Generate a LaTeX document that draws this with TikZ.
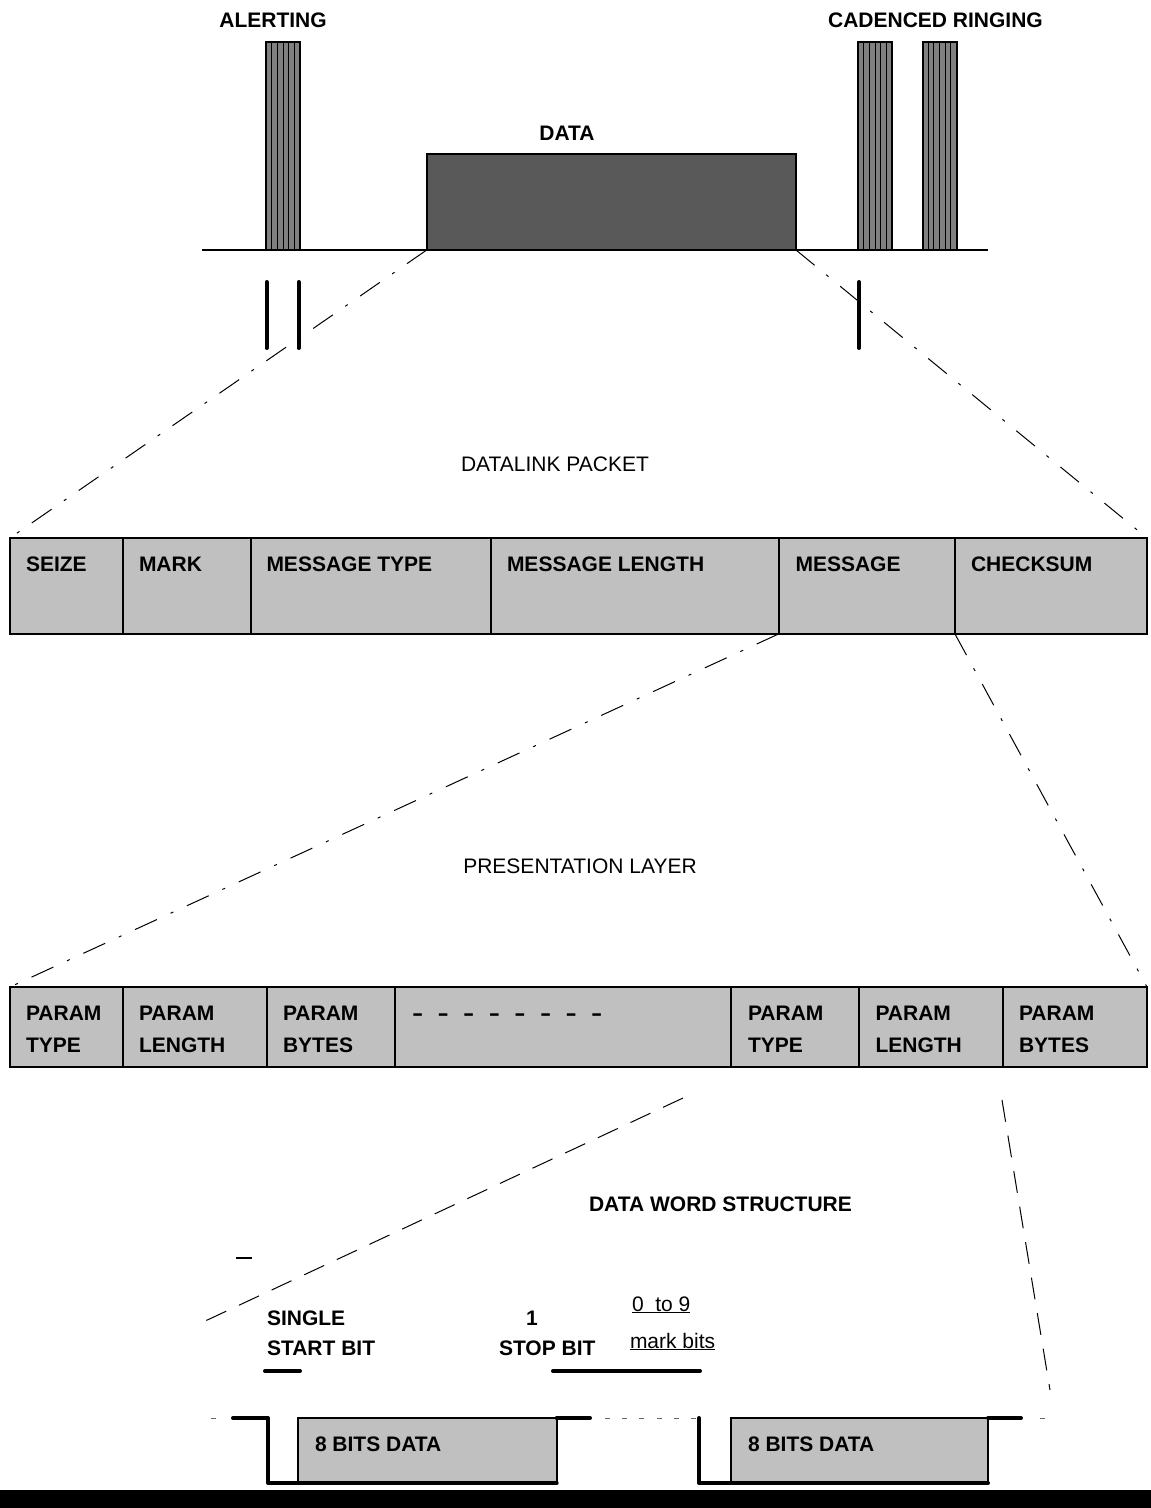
\documentclass[tikz,border=0pt]{standalone}
\usepackage{fontspec}
\setmainfont{Liberation Sans}
\definecolor{cellgray}{RGB}{192,192,192}
\definecolor{bargray}{RGB}{128,128,128}
\definecolor{datagray}{RGB}{89,89,89}
\newcommand\onedash{\scalebox{1.6}[1]{-}}
\newcommand\dsh{\makebox[25.6pt][l]{\onedash}}
\begin{document}
\begin{tikzpicture}[x=1pt,y=-1pt,
  every node/.style={inner sep=0pt,outer sep=0pt},
  bold/.style={font=\fontsize{21}{25}\selectfont\bfseries},
  reg/.style={font=\fontsize{21}{25}\selectfont},
  cellbox/.style={draw,line width=2pt,fill=cellgray,anchor=north west},
  barbox/.style={draw,line width=2pt,fill=bargray,anchor=south west,minimum width=34pt,minimum height=208pt},
  stripe/.style={line width=1pt},
  tick/.style={line width=4pt,line cap=round},
  wave/.style={line width=4pt,line cap=round,line join=round},
  dashdot/.style={line width=1pt,dash pattern=on 24pt off 15pt on 3pt off 15pt},
  longdash/.style={line width=1pt,dash pattern=on 22pt off 14pt},
  fine/.style={line width=1pt,dash pattern=on 5pt off 12.2pt,black!60},
]
\useasboundingbox (0,0) rectangle (1151,1508);

% ---------- top: line signal ----------
\coordinate (bl) at (202,250);
\coordinate (br) at (988,250);
\draw[line width=2pt] (bl) -- (br);

\node[barbox] (al) at (266,250) {};
\node[barbox] (cr1) at (858.3,250) {};
\node[barbox] (cr2) at (922.5,250) {};
\foreach \x in {266,858.3,922.5}
  \foreach \k in {1,...,5}
    \draw[stripe] (\x+\k*5.667,42) -- (\x+\k*5.667,250);

\node[draw,line width=2pt,fill=datagray,anchor=south west,minimum width=369.3pt,minimum height=96pt] (data) at (426.7,250) {};

\node[bold,anchor=base] (alt) at (273,27.5) {ALERTING};
\node[bold,anchor=base] (cadt) at (935.5,27.5) {CADENCED RINGING};
\node[bold,anchor=base] (datat) at (567,140) {DATA};

% ticks
\coordinate (ka1) at (266.7,282); \coordinate (kb1) at (266.7,348);
\coordinate (ka2) at (298.7,282); \coordinate (kb2) at (298.7,348);
\coordinate (ka3) at (859,282);   \coordinate (kb3) at (859,348);
\draw[tick] (ka1) -- (kb1);
\draw[tick] (ka2) -- (kb2);
\draw[tick] (ka3) -- (kb3);

% ---------- datalink packet ----------
\node[reg,anchor=base] (dlp) at (555,471.7) {DATALINK PACKET};
\foreach \n/\x/\w in {a/10/112.7, b/122.7/128, c/250.7/240.3, d/491/287.5, e/778.5/176.5, f/955/192}
  \node[cellbox,minimum width=\w pt,minimum height=96pt] (t1\n) at (\x,538) {};
\node[bold,anchor=base west] (l1a) at (26,571.7) {SEIZE};
\node[bold,anchor=base west] (l1b) at (139,571.7) {MARK};
\node[bold,anchor=base west] (l1c) at (266.5,571.7) {MESSAGE TYPE};
\node[bold,anchor=base west] (l1d) at (507,571.7) {MESSAGE LENGTH};
\node[bold,anchor=base west] (l1e) at (795.5,571.7) {MESSAGE};
\node[bold,anchor=base west] (l1f) at (971,571.7) {CHECKSUM};

\draw[dashdot] (data.south west) -- (t1a.north west);
\draw[dashdot] (data.south east) -- (t1f.north east);

% ---------- presentation layer ----------
\node[reg,anchor=base] (pl) at (580,873.5) {PRESENTATION LAYER};
\foreach \n/\x/\w in {a/10/113, b/123/144, c/267/128, d/395/336, e/731/128, f/859/143.5, g/1002.5/144.5}
  \node[cellbox,minimum width=\w pt,minimum height=80pt] (t2\n) at (\x,987) {};
\node[bold,anchor=base west] (p1a) at (26,1020) {PARAM};
\node[bold,anchor=base west] (p2a) at (26,1052) {TYPE};
\node[bold,anchor=base west] (p1b) at (139,1020) {PARAM};
\node[bold,anchor=base west] (p2b) at (139,1052) {LENGTH};
\node[bold,anchor=base west] (p1c) at (283,1020) {PARAM};
\node[bold,anchor=base west] (p2c) at (283,1052) {BYTES};
\node[bold,anchor=base west] (dots) at (412,1020) {\dsh\dsh\dsh\dsh\dsh\dsh\dsh\onedash};
\node[bold,anchor=base west] (p1e) at (748,1020) {PARAM};
\node[bold,anchor=base west] (p2e) at (748,1052) {TYPE};
\node[bold,anchor=base west] (p1f) at (875.5,1020) {PARAM};
\node[bold,anchor=base west] (p2f) at (875.5,1052) {LENGTH};
\node[bold,anchor=base west] (p1g) at (1019,1020) {PARAM};
\node[bold,anchor=base west] (p2g) at (1019,1052) {BYTES};

\draw[dashdot] (t1e.south west) -- (t2a.north west);
\draw[dashdot] (t1f.south west) -- (t2g.north east);

% ---------- data word structure ----------
\coordinate (q1) at (683,1098);
\coordinate (q2) at (203,1322);
\coordinate (q3) at (1002,1100);
\coordinate (q4) at (1050,1390);
\draw[longdash] (q1) -- (q2);
\draw[longdash] (q3) -- (q4);

\node[bold,anchor=base] (dws) at (720.5,1211.7) {DATA WORD STRUCTURE};
\coordinate (us1) at (236,1258); \coordinate (us2) at (252,1258);
\draw[line width=2.5pt] (us1) -- (us2);

\node[bold,anchor=base west] (sg) at (267,1325) {SINGLE};
\node[bold,anchor=base west] (sb) at (267,1355) {START BIT};
\node[bold,anchor=base] (one) at (532,1325) {1};
\node[bold,anchor=base west] (stb) at (499,1355) {STOP BIT};
\node[reg,anchor=base west] (zt) at (632,1311) {\underline{0~~to~9}};
\node[reg,anchor=base west] (mb) at (630,1348) {\underline{mark bits}};

\coordinate (sa) at (265,1371); \coordinate (sz) at (300,1371);
\coordinate (oa) at (553,1371); \coordinate (oz) at (700,1371);
\draw[tick] (sa) -- (sz);
\draw[tick] (oa) -- (oz);

% waveform
\node[cellbox,minimum width=258.4pt,minimum height=65pt] (by1) at (298.3,1418) {};
\node[cellbox,minimum width=257pt,minimum height=65pt] (by2) at (731,1418) {};
\node[bold,anchor=base west] (b1t) at (315,1451.5) {8 BITS DATA};
\node[bold,anchor=base west] (b2t) at (748,1451.5) {8 BITS DATA};

\coordinate (w1) at (233,1418);
\coordinate (w2) at (268,1418);
\coordinate (w3) at (268,1483);
\draw[wave] (w1) -- (w2) -- (w3) -- (by1.south east);
\coordinate (w4) at (590,1418);
\draw[wave] (by1.north east) -- (w4);
\coordinate (w5) at (699,1418);
\coordinate (w6) at (699,1483);
\draw[wave] (w5) -- (w6) -- (by2.south east);
\coordinate (w7) at (1021,1418);
\draw[wave] (by2.north east) -- (w7);

\coordinate (f1) at (605,1418); \coordinate (f2) at (697,1418);
\coordinate (f3) at (211,1418); \coordinate (f4) at (216,1418);
\coordinate (f5) at (1040,1418); \coordinate (f6) at (1045,1418);
\draw[fine] (f1) -- (f2);
\draw[fine] (f3) -- (f4);
\draw[fine] (f5) -- (f6);

\fill (0,1490) rectangle (1151,1508);
\end{tikzpicture}
\end{document}
